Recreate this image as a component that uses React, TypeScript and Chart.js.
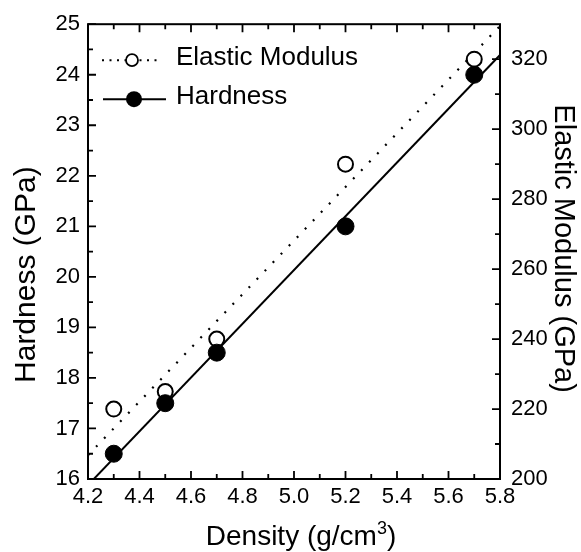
import React, { useEffect, useRef } from "react";
import { Chart, registerables } from "chart.js";

Chart.register(...registerables);

// ---- data ----
const DENSITY = [4.3, 4.5, 4.7, 5.2, 5.7];
const HARDNESS = [16.5, 17.5, 18.5, 21.0, 24.0];
const MODULUS = [220, 225, 240, 290, 320];

// fitted straight lines (end points across the x range)
const FIT_DENSITY = [4.2, 5.8];
const HARDNESS_FIT = [15.88, 24.39];
const MODULUS_FIT = [206.8, 329.5];

// ---- ticks ----
const X_TICKS = [4.2, 4.4, 4.6, 4.8, 5.0, 5.2, 5.4, 5.6, 5.8];
const HARDNESS_TICKS = [16, 17, 18, 19, 20, 21, 22, 23, 24, 25];
const MODULUS_TICKS = [200, 220, 240, 260, 280, 300, 320];

const X_MIN = 4.2, X_MAX = 5.8;
const H_MIN = 16, H_MAX = 25;
const M_MIN = 200, M_MAX = 330;

const LABEL_X = "Density (g/cm";
const LABEL_X_SUP = "3";
const LABEL_H = "Hardness (GPa)";
const LABEL_M = "Elastic Modulus (GPa)";
const LEGEND_M = "Elastic Modulus";
const LEGEND_H = "Hardness";

const FONT = "'Liberation Sans', Arial, Helvetica, sans-serif";

function minors(major: number[]): number[] {
  const out: number[] = [];
  for (let i = 0; i < major.length - 1; i++) out.push((major[i] + major[i + 1]) / 2);
  return out;
}

const decorPlugin = {
  id: "decor",
  afterDraw(chart: any) {
    const { ctx, chartArea: a, scales } = chart;
    const sx = scales.x, sy = scales.y, sy2 = scales.y2;
    const MAJ = 8, MIN = 5;
    ctx.save();
    ctx.strokeStyle = "#000";
    ctx.fillStyle = "#000";
    ctx.setLineDash([]);

    // frame
    ctx.lineWidth = 2;
    ctx.strokeRect(a.left, a.top, a.right - a.left, a.bottom - a.top);

    // ticks (inward)
    ctx.lineWidth = 1.8;
    ctx.beginPath();
    X_TICKS.forEach((v) => {
      const p = sx.getPixelForValue(v);
      ctx.moveTo(p, a.bottom); ctx.lineTo(p, a.bottom - MAJ);
      ctx.moveTo(p, a.top); ctx.lineTo(p, a.top + MAJ);
    });
    minors(X_TICKS).forEach((v) => {
      const p = sx.getPixelForValue(v);
      ctx.moveTo(p, a.bottom); ctx.lineTo(p, a.bottom - MIN);
      ctx.moveTo(p, a.top); ctx.lineTo(p, a.top + MIN);
    });
    HARDNESS_TICKS.forEach((v) => {
      const p = sy.getPixelForValue(v);
      ctx.moveTo(a.left, p); ctx.lineTo(a.left + MAJ, p);
    });
    minors(HARDNESS_TICKS).forEach((v) => {
      const p = sy.getPixelForValue(v);
      ctx.moveTo(a.left, p); ctx.lineTo(a.left + MIN, p);
    });
    MODULUS_TICKS.forEach((v) => {
      const p = sy2.getPixelForValue(v);
      ctx.moveTo(a.right, p); ctx.lineTo(a.right - MAJ, p);
    });
    minors(MODULUS_TICKS).forEach((v) => {
      const p = sy2.getPixelForValue(v);
      ctx.moveTo(a.right, p); ctx.lineTo(a.right - MIN, p);
    });
    ctx.stroke();

    // legend
    const lx = a.left;
    const r1 = a.top + 36, r2 = a.top + 75;
    ctx.lineWidth = 2;
    ctx.setLineDash([2, 5.5]);
    ctx.beginPath();
    ctx.moveTo(lx + 14, r1); ctx.lineTo(lx + 72, r1);
    ctx.stroke();
    ctx.setLineDash([]);
    ctx.beginPath();
    ctx.arc(lx + 44, r1, 6, 0, Math.PI * 2);
    ctx.fillStyle = "#fff"; ctx.fill();
    ctx.lineWidth = 1.8; ctx.stroke();
    ctx.fillStyle = "#000";
    ctx.lineWidth = 2;
    ctx.beginPath();
    ctx.moveTo(lx + 15, r2); ctx.lineTo(lx + 78, r2);
    ctx.stroke();
    ctx.beginPath();
    ctx.arc(lx + 46, r2, 8, 0, Math.PI * 2);
    ctx.fill();
    ctx.font = `26px ${FONT}`;
    ctx.textAlign = "left";
    ctx.textBaseline = "middle";
    ctx.fillText(LEGEND_M, lx + 88, r1 - 2);
    ctx.fillText(LEGEND_H, lx + 88, r2 - 2);

    // x title with superscript
    const big = `28px ${FONT}`, small = `18px ${FONT}`;
    ctx.textBaseline = "alphabetic";
    ctx.font = big;
    const w1 = ctx.measureText(LABEL_X).width;
    const wc = ctx.measureText(")").width;
    ctx.font = small;
    const ws = ctx.measureText(LABEL_X_SUP).width;
    const total = w1 + ws + wc;
    const cx = (a.left + a.right) / 2 + 7;
    const base = a.bottom + 66;
    let px = cx - total / 2;
    ctx.font = big;
    ctx.fillText(LABEL_X, px, base);
    px += w1;
    ctx.font = small;
    ctx.fillText(LABEL_X_SUP, px, base - 11);
    px += ws;
    ctx.font = big;
    ctx.fillText(")", px, base);

    // left title
    ctx.save();
    ctx.translate(a.left - 53, (a.top + a.bottom) / 2 + 23);
    ctx.rotate(-Math.PI / 2);
    ctx.textAlign = "center";
    ctx.font = `30px ${FONT}`;
    ctx.fillText(LABEL_H, 0, 0);
    ctx.restore();

    // right title
    ctx.save();
    ctx.translate(a.right + 55, (a.top + a.bottom) / 2 - 3);
    ctx.rotate(Math.PI / 2);
    ctx.textAlign = "center";
    ctx.font = `29px ${FONT}`;
    ctx.fillText(LABEL_M, 0, 0);
    ctx.restore();

    ctx.restore();
  },
};

export default function App() {
  const ref = useRef<HTMLCanvasElement>(null);
  useEffect(() => {
    const canvas = ref.current;
    if (!canvas) return;
    const tickFont = { family: FONT, size: 22 };
    const chart = new Chart(canvas, {
      type: "scatter",
      data: {
        datasets: [
          {
            label: LEGEND_H,
            data: DENSITY.map((d, i) => ({ x: d, y: HARDNESS[i] })),
            yAxisID: "y",
            showLine: false,
            pointRadius: 8.5,
            pointBackgroundColor: "#000",
            pointBorderColor: "#000",
            pointBorderWidth: 1,
          },
          {
            label: LEGEND_M,
            data: DENSITY.map((d, i) => ({ x: d, y: MODULUS[i] })),
            yAxisID: "y2",
            showLine: false,
            pointRadius: 7.5,
            pointBackgroundColor: "#fff",
            pointBorderColor: "#000",
            pointBorderWidth: 2,
          },
          {
            label: "Hardness fit",
            data: FIT_DENSITY.map((d, i) => ({ x: d, y: HARDNESS_FIT[i] })),
            yAxisID: "y",
            showLine: true,
            borderColor: "#000",
            borderWidth: 2,
            pointRadius: 0,
            clip: 0,
          },
          {
            label: "Modulus fit",
            data: FIT_DENSITY.map((d, i) => ({ x: d, y: MODULUS_FIT[i] })),
            yAxisID: "y2",
            showLine: true,
            borderColor: "#000",
            borderWidth: 2.2,
            borderDash: [2, 9.6],
            pointRadius: 0,
            clip: 0,
          },
        ] as any,
      },
      options: {
        responsive: false,
        animation: false,
        devicePixelRatio: 1,
        events: [],
        layout: { padding: { top: 17, left: 0, right: 0, bottom: 0 } },
        plugins: { legend: { display: false }, tooltip: { enabled: false } },
        scales: {
          x: {
            type: "linear",
            position: "bottom",
            min: X_MIN,
            max: X_MAX,
            afterBuildTicks: (s: any) => { s.ticks = X_TICKS.map((v) => ({ value: v })); },
            afterFit: (s: any) => { s.height = 73; },
            ticks: {
              font: tickFont, color: "#000", padding: 5, maxRotation: 0, autoSkip: false,
              callback: (v: any) => Number(v).toFixed(1),
            },
            grid: { display: false, drawTicks: false },
            border: { display: false },
          },
          y: {
            type: "linear",
            position: "left",
            min: H_MIN,
            max: H_MAX,
            afterBuildTicks: (s: any) => { s.ticks = HARDNESS_TICKS.map((v) => ({ value: v })); },
            afterFit: (s: any) => { s.width = 88; },
            ticks: { font: tickFont, color: "#000", padding: 8, autoSkip: false, callback: (v: any) => String(v) },
            grid: { display: false, drawTicks: false },
            border: { display: false },
          },
          y2: {
            type: "linear",
            position: "right",
            min: M_MIN,
            max: M_MAX,
            afterBuildTicks: (s: any) => { s.ticks = MODULUS_TICKS.map((v) => ({ value: v })); },
            afterFit: (s: any) => { s.width = 81; },
            ticks: { font: tickFont, color: "#000", padding: 11, autoSkip: false, callback: (v: any) => String(v) },
            grid: { display: false, drawTicks: false },
            border: { display: false },
          },
        },
      } as any,
      plugins: [decorPlugin],
    });
    return () => chart.destroy();
  }, []);
  return (
    <div style={{ position: "absolute", left: 0, top: 0, width: 581, height: 552, background: "#fff" }}>
      <canvas ref={ref} width={581} height={552} style={{ display: "block", width: 581, height: 552 }} />
    </div>
  );
}
